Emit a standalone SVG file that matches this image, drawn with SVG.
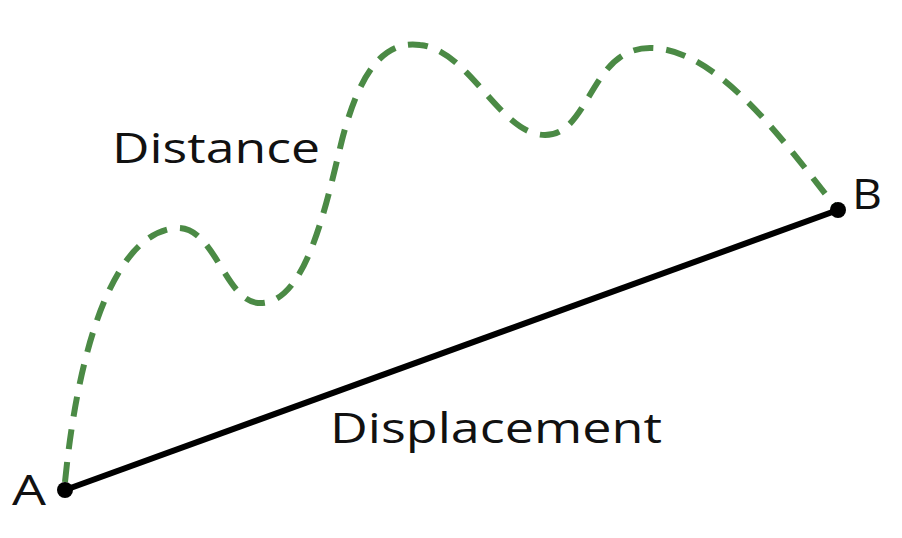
<svg xmlns="http://www.w3.org/2000/svg" width="902" height="538" viewBox="0 0 902 538">
<style>
text{font-family:"Open Sans","Liberation Sans",sans-serif;font-size:42px;fill:#111}
.dist{fill:none;stroke:#4b8a45;stroke-width:6;stroke-dasharray:20 13}
</style>
<rect width="902" height="538" fill="#fff"/>
<g id="connectors">
<path class="dist" d="M65,482 C80,330 120,230 178,228 C215,228 225,300 258,303 C305,306 325,210 342,140 C360,70 385,40 420,45 C470,50 500,135 545,135 C590,135 590,48 650,48 C720,48 790,150 838,210"/>
<line x1="65" y1="490" x2="838" y2="210" stroke="#000" stroke-width="6"/>
</g>
<g id="A"><circle cx="65" cy="490" r="8"/><text x="12" y="505" textLength="34" lengthAdjust="spacingAndGlyphs">A</text></g>
<g id="B"><circle cx="838" cy="210" r="8"/><text x="852" y="209" textLength="30" lengthAdjust="spacingAndGlyphs">B</text></g>
<g id="labels"><text x="112" y="163" textLength="208" lengthAdjust="spacingAndGlyphs">Distance</text><text x="330" y="443" textLength="332" lengthAdjust="spacingAndGlyphs">Displacement</text></g>
</svg>
